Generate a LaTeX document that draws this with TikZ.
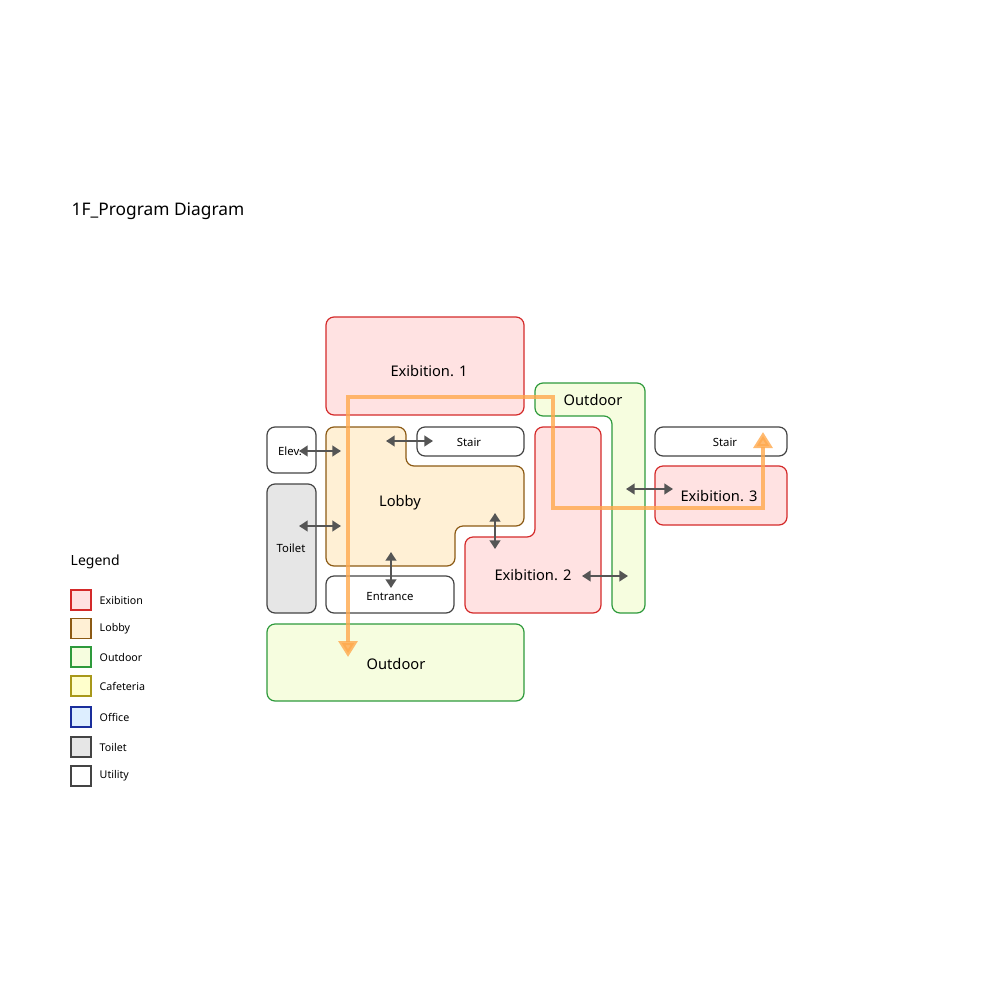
\documentclass[tikz,border=0pt]{standalone}
\usepackage{fontspec}
\setmainfont{Noto Sans}
\usepackage{xcolor}
\usetikzlibrary{arrows.meta}

\definecolor{exbfill}{HTML}{FFE2E2}
\definecolor{exbline}{HTML}{D42A2A}
\definecolor{lobfill}{HTML}{FFF0D5}
\definecolor{lobline}{HTML}{8C5A14}
\definecolor{outfill}{HTML}{F6FDDF}
\definecolor{outline}{HTML}{2E9A3C}
\definecolor{caffill}{HTML}{FFFFCC}
\definecolor{cafline}{HTML}{A8981A}
\definecolor{offfill}{HTML}{DDEEFF}
\definecolor{offline}{HTML}{1A2E9C}
\definecolor{toifill}{HTML}{E6E6E6}
\definecolor{grayline}{HTML}{444444}
\definecolor{arrowgray}{HTML}{555555}
\definecolor{route}{HTML}{FFA94D}

\tikzset{
	room/.style={rounded corners=6pt, line width=0.9pt},
	exb/.style={room, draw=exbline, fill=exbfill},
	lob/.style={room, draw=lobline, fill=lobfill},
	outd/.style={room, draw=outline, fill=outfill},
	toi/.style={room, draw=grayline, fill=toifill},
	util/.style={room, draw=grayline, fill=white},
	biglabel/.style={font=\fontsize{11}{13}\selectfont},
	smalllabel/.style={font=\fontsize{8.5}{10}\selectfont},
	link/.style={arrowgray, line width=1.5pt, {Triangle[width=8pt,length=6.5pt]}-{Triangle[width=8pt,length=6.5pt]}},
	legbox/.style={line width=0.9pt, minimum size=15pt, inner sep=0pt},
	legtext/.style={anchor=west, font=\fontsize{8}{10}\selectfont}
}

\begin{document}
\begin{tikzpicture}[x=0.75pt, y=-0.75pt]
	\useasboundingbox (0,0) rectangle (1000,1000);

	\node[anchor=west, font=\fontsize{13}{15}\selectfont] (title) at (67,211) {1F\_Program Diagram};

	% rooms
	\draw[exb] (326,317) rectangle (524,415);
	\node[biglabel] (exb1) at (429,371) {Exibition. 1};

	\draw[outd] (535,383) -- (645,383) -- (645,613) -- (612,613) -- (612,416) -- (535,416) -- cycle;
	\node[biglabel] (out1) at (593,400) {Outdoor};

	\draw[exb] (535,427) -- (601,427) -- (601,613) -- (465,613) -- (465,537) -- (535,537) -- cycle;
	\node[biglabel] (exb2) at (533,575) {Exibition. 2};

	\draw[util] (655,427) rectangle (787,456);
	\node[smalllabel] (stair2) at (725,442) {Stair};

	\draw[exb] (655,466) rectangle (787,525);
	\node[biglabel] (exb3) at (719,496) {Exibition. 3};

	\draw[util] (417,427) rectangle (524,456);
	\node[smalllabel] (stair1) at (469,442) {Stair};

	\draw[util] (267,427) rectangle (316,473);
	\node[smalllabel] (elev) at (290,451) {Elev.};

	\draw[toi] (267,484) rectangle (316,613);
	\node[smalllabel] (toilet) at (291,548) {Toilet};

	\draw[lob] (326,427) -- (406,427) -- (406,466) -- (524,466) -- (524,526) -- (455,526) -- (455,566) -- (326,566) -- cycle;
	\node[biglabel] (lobby) at (400,503) {Lobby};

	\draw[util] (326,576) rectangle (454,613);
	\node[smalllabel] (entr) at (390,597) {Entrance};

	\draw[outd] (267,624) rectangle (524,701);
	\node[biglabel] (out2) at (396,664) {Outdoor};

	% links
	\coordinate (a1) at (299,451); \coordinate (a2) at (341,451);
	\coordinate (b1) at (386,441); \coordinate (b2) at (433,441);
	\coordinate (c1) at (299,526); \coordinate (c2) at (341,526);
	\coordinate (d1) at (391,552); \coordinate (d2) at (391,588);
	\coordinate (e1) at (495,513); \coordinate (e2) at (495,549);
	\coordinate (f1) at (582,576); \coordinate (f2) at (628,576);
	\coordinate (g1) at (626,489); \coordinate (g2) at (673,489);
	\draw[link] (a1) -- (a2);
	\draw[link] (b1) -- (b2);
	\draw[link] (c1) -- (c2);
	\draw[link] (d1) -- (d2);
	\draw[link] (e1) -- (e2);
	\draw[link] (f1) -- (f2);
	\draw[link] (g1) -- (g2);

	% route
	\coordinate (r1) at (348,657);
	\coordinate (r2) at (348,397);
	\coordinate (r3) at (553,397);
	\coordinate (r4) at (553,508);
	\coordinate (r5) at (763,508);
	\coordinate (r6) at (763,432);
	\draw[route, opacity=0.8, line width=3pt, {Triangle[width=14pt,length=12pt]}-{Triangle[width=14pt,length=12pt]}]
		(r1) -- (r2) -- (r3) -- (r4) -- (r5) -- (r6);

	% legend
	\node[anchor=west, font=\fontsize{10.5}{13}\selectfont] (legend) at (66,562) {Legend};
	\node[legbox, draw=exbline, fill=exbfill] (lg1) at (81,600) {};
	\node[legtext] (lt1) at (95,600) {Exibition};
	\node[legbox, draw=lobline, fill=lobfill] (lg2) at (81,628.5) {};
	\node[legtext] (lt2) at (95,628.5) {Lobby};
	\node[legbox, draw=outline, fill=outfill] (lg3) at (81,657) {};
	\node[legtext] (lt3) at (95,657) {Outdoor};
	\node[legbox, draw=cafline, fill=caffill] (lg4) at (81,686) {};
	\node[legtext] (lt4) at (95,686) {Cafeteria};
	\node[legbox, draw=offline, fill=offfill] (lg5) at (81,717) {};
	\node[legtext] (lt5) at (95,717) {Office};
	\node[legbox, draw=grayline, fill=toifill] (lg6) at (81,747) {};
	\node[legtext] (lt6) at (95,747) {Toilet};
	\node[legbox, draw=grayline, fill=white] (lg7) at (81,776) {};
	\node[legtext] (lt7) at (95,776) {Utility};
\end{tikzpicture}
\end{document}
